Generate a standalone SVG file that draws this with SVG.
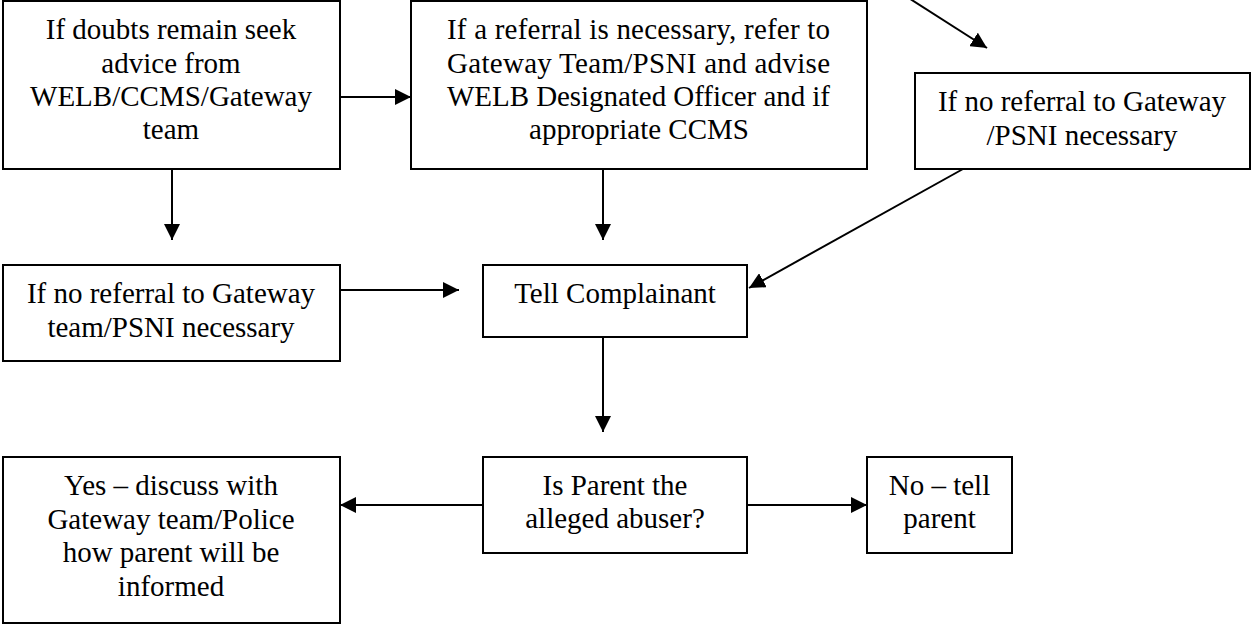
<svg xmlns="http://www.w3.org/2000/svg" width="1251" height="625" viewBox="0 0 1251 625">
<defs>
<style>
.box{fill:#fff;stroke:#000;stroke-width:2}
.t{font-family:"Liberation Serif","Times New Roman",serif;font-size:29px;fill:#000;text-anchor:middle}
.j{text-anchor:start}
.c{stroke:#000;stroke-width:2;fill:none;marker-end:url(#ah)}
</style>
<marker id="ah" markerUnits="userSpaceOnUse" markerWidth="16" markerHeight="16" viewBox="0 0 16 16" refX="16" refY="8" orient="auto">
<path d="M0,0 L16,8 L0,16 Z" fill="#000"/>
</marker>
</defs>
<rect width="1251" height="625" fill="#fff"/>
<g id="connectors">
<line class="c" x1="904" y1="-5" x2="987" y2="48"/>
<line class="c" x1="340" y1="97" x2="411" y2="97"/>
<line class="c" x1="172" y1="169" x2="172" y2="240"/>
<line class="c" x1="603" y1="169" x2="603" y2="240"/>
<line class="c" x1="340" y1="290" x2="459" y2="290"/>
<line class="c" x1="963" y1="169" x2="749" y2="288"/>
<line class="c" x1="603" y1="337" x2="603" y2="432"/>
<line class="c" x1="483" y1="505" x2="340" y2="505"/>
<line class="c" x1="747" y1="505" x2="867" y2="505"/>
</g>
<g id="n1">
<rect class="box" x="3" y="1" width="337" height="168"/>
<text class="t" x="171" y="39">If doubts remain seek</text>
<text class="t" x="171" y="73">advice from</text>
<text class="t" x="171" y="106">WELB/CCMS/Gateway</text>
<text class="t" x="171" y="139">team</text>
</g>
<g id="n2">
<rect class="box" x="411" y="1" width="456" height="168"/>
<text class="t j" x="447" y="39" textLength="383" lengthAdjust="spacing">If a referral is necessary, refer to</text>
<text class="t j" x="447" y="73" textLength="383" lengthAdjust="spacing">Gateway Team/PSNI and advise</text>
<text class="t j" x="447" y="106" textLength="383" lengthAdjust="spacing">WELB Designated Officer and if</text>
<text class="t" x="639" y="139">appropriate CCMS</text>
</g>
<g id="n3">
<rect class="box" x="915" y="73" width="335" height="96"/>
<text class="t" x="1082" y="111">If no referral to Gateway</text>
<text class="t" x="1082" y="145">/PSNI necessary</text>
</g>
<g id="n4">
<rect class="box" x="3" y="265" width="337" height="96"/>
<text class="t" x="171" y="303">If no referral to Gateway</text>
<text class="t" x="171" y="337">team/PSNI necessary</text>
</g>
<g id="n5">
<rect class="box" x="483" y="265" width="264" height="72"/>
<text class="t" x="615" y="303">Tell Complainant</text>
</g>
<g id="n6">
<rect class="box" x="483" y="457" width="264" height="96"/>
<text class="t" x="615" y="495">Is Parent the</text>
<text class="t" x="615" y="528">alleged abuser?</text>
</g>
<g id="n7">
<rect class="box" x="3" y="457" width="337" height="166"/>
<text class="t" x="171" y="495">Yes – discuss with</text>
<text class="t" x="171" y="529">Gateway team/Police</text>
<text class="t" x="171" y="562">how parent will be</text>
<text class="t" x="171" y="596">informed</text>
</g>
<g id="n8">
<rect class="box" x="867" y="457" width="145" height="96"/>
<text class="t" x="939.5" y="495">No – tell</text>
<text class="t" x="939.5" y="528">parent</text>
</g>
</svg>
